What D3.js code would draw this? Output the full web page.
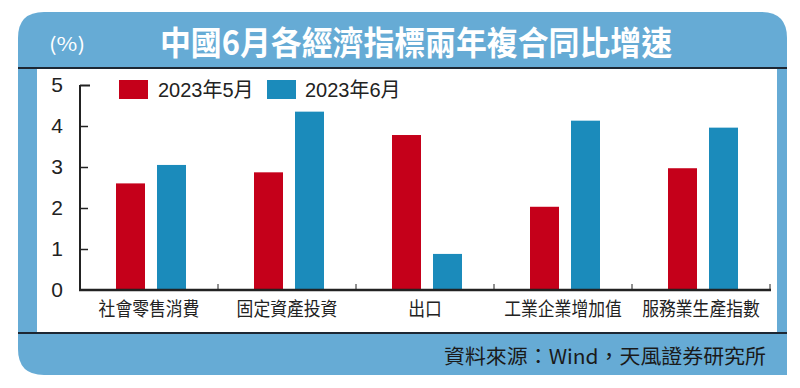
<!DOCTYPE html>
<html><head><meta charset="utf-8">
<script src="https://cdn.jsdelivr.net/npm/d3@7"></script>
<style>body{margin:0;background:#fff}svg{display:block}</style>
</head><body>
<svg id="c" width="800" height="388"></svg>
<script>
const categories = ["社會零售消費","固定資產投資","出口","工業企業增加值","服務業生產指數"];
const seriesNames = ["2023年5月","2023年6月"];
const may = [2.6, 2.87, 3.78, 2.03, 2.97];
const june = [3.05, 4.35, 0.88, 4.13, 3.96];
const yTicks = [0,1,2,3,4,5];
const title = "中國6月各經濟指標兩年複合同比增速";
const unit = "(%)";
const source = "資料來源：Wind，天風證券研究所";

const colors = ["#c5001a","#1b8bbb"];
const frame = "#66abd5";
const font = "'Noto Sans CJK TC','Noto Sans CJK SC',sans-serif";
const svg = d3.select("#c");

// frame
const L=18,R=787,T=12,B=375,r=26;
svg.append("path").attr("fill",frame)
  .attr("d",`M${L},${T+r} Q${L},${T} ${L+r},${T} L${R-r},${T} Q${R},${T} ${R},${T+r} L${R},${B} L${L+r},${B} Q${L},${B} ${L},${B-r} Z`);
svg.append("rect").attr("x",37).attr("y",68).attr("width",740).attr("height",265).attr("fill","#fff");
svg.append("line").attr("x1",L).attr("x2",R).attr("y1",68).attr("y2",68).attr("stroke","#1d2733").attr("stroke-width",2.2);
svg.append("line").attr("x1",L).attr("x2",R).attr("y1",333).attr("y2",333).attr("stroke","#1d2733").attr("stroke-width",2.2);

svg.append("text").attr("x",160).attr("y",55).attr("fill","#fff")
  .attr("font-family",font).attr("font-weight",700).attr("font-size",33)
  .attr("textLength",512).attr("lengthAdjust","spacingAndGlyphs").text(title);
svg.append("text").attr("x",49).attr("y",51).attr("fill","#fff")
  .attr("font-family",font).attr("font-size",19)
  .attr("textLength",36).attr("lengthAdjust","spacingAndGlyphs").text(unit);
svg.append("text").attr("x",444).attr("y",364).attr("fill","#1a1a1a")
  .attr("font-family",font).attr("font-size",20)
  .attr("textLength",322).attr("lengthAdjust","spacingAndGlyphs").text(source);

// scales
const x = d3.scaleBand().domain(categories).range([80,770]);
const y = d3.scaleLinear().domain([0,5]).range([290,85]);

const g = svg.append("g");
categories.forEach((c,i)=>{
  const cx = x(c)+x.bandwidth()/2;
  [may[i],june[i]].forEach((v,k)=>{
    const bx = k===0 ? cx-33 : cx+8;
    g.append("rect").attr("x",bx).attr("width",29).attr("y",y(v)).attr("height",y(0)-y(v)).attr("fill",colors[k]);
  });
});

// y axis
const yAxis = d3.axisLeft(y).tickValues(yTicks).tickSize(-8).tickPadding(17).tickFormat(d3.format("d"));
const ya = svg.append("g").attr("transform","translate(80,0)").call(yAxis);
ya.select(".domain").attr("d","M0,85V290").attr("stroke","#222").attr("stroke-width",2);
ya.selectAll(".tick line").attr("stroke","#222").attr("stroke-width",1.5).filter(d=>d===0).remove();
ya.selectAll(".tick text").attr("font-family","'Liberation Sans',Arial,sans-serif").attr("font-size",21).attr("fill","#222");
ya.select(".tick:last-of-type line").attr("x2",10).attr("stroke-width",2);

// x axis
const xa = svg.append("g").attr("transform","translate(0,290)");
xa.append("line").attr("x1",79).attr("x2",771).attr("stroke","#222").attr("stroke-width",2.5);
x.domain().slice(1).concat(["_end"]).forEach((c,i)=>{
  const px = c==="_end" ? 770 : x(c);
  xa.append("line").attr("x1",px).attr("x2",px).attr("y1",0).attr("y2",-6).attr("stroke","#222").attr("stroke-width",1);
});
categories.forEach(c=>{
  xa.append("text").attr("x",x(c)+x.bandwidth()/2).attr("y",26).attr("text-anchor","middle")
    .attr("font-family",font).attr("font-size",19).attr("fill","#222")
    .attr("textLength",c.length*16.8).attr("lengthAdjust","spacingAndGlyphs").text(c);
});

// legend
const lg = svg.append("g");
[[119,158],[267,305]].forEach(([sx,tx],k)=>{
  lg.append("rect").attr("x",sx).attr("y",80).attr("width",29).attr("height",19).attr("fill",colors[k]);
  lg.append("text").attr("x",tx).attr("y",97).attr("font-family","'Liberation Sans','Noto Sans CJK TC',sans-serif")
    .attr("font-size",20).attr("fill","#222").text(seriesNames[k]);
});
</script>
</body></html>
